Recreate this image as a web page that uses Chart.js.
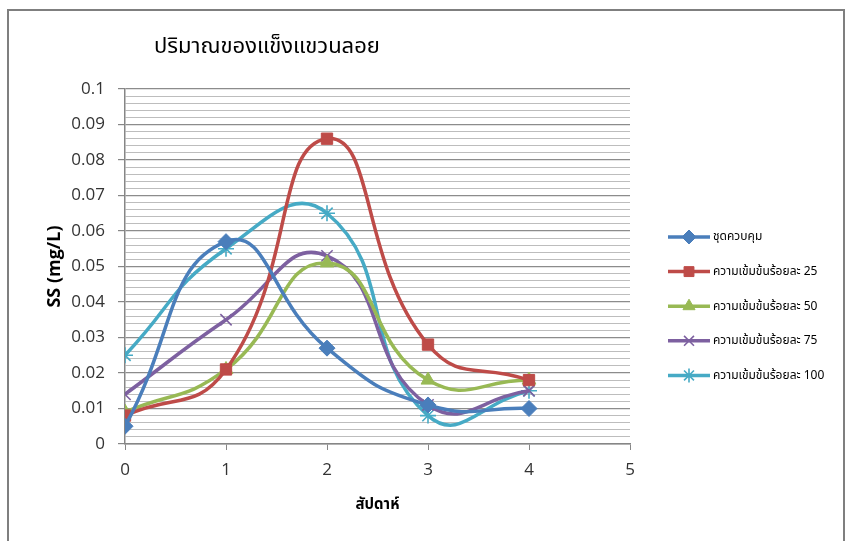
<!DOCTYPE html>
<html>
<head>
<meta charset="utf-8">
<script src="https://cdn.jsdelivr.net/npm/chart.js@4/dist/chart.umd.min.js"></script>
<style>
  html, body { margin: 0; padding: 0; background: #fff; }
  #wrap { width: 849px; height: 541px; position: relative; }
</style>
</head>
<body>
<div id="wrap"><canvas id="c" width="849" height="541"></canvas></div>
<script>
// Suspended solids (SS) per week for each treatment level
const weeks = [0, 1, 2, 3, 4];
const seriesNames = [
  'ชุดควบคุม',
  'ความเข้มข้นร้อยละ 25',
  'ความเข้มข้นร้อยละ 50',
  'ความเข้มข้นร้อยละ 75',
  'ความเข้มข้นร้อยละ 100'
];
const control = [0.005, 0.057, 0.027, 0.011, 0.010];
const conc25  = [0.008, 0.021, 0.086, 0.028, 0.018];
const conc50  = [0.009, 0.021, 0.051, 0.018, 0.018];
const conc75  = [0.014, 0.035, 0.053, 0.011, 0.015];
const conc100 = [0.025, 0.055, 0.065, 0.008, 0.015];
const xTicks = [0, 1, 2, 3, 4, 5];
const yTicks = [0, 0.01, 0.02, 0.03, 0.04, 0.05, 0.06, 0.07, 0.08, 0.09, 0.1];

const chartTitle = 'ปริมาณของแข็งแขวนลอย';
const xTitle = 'สัปดาห์';
const yTitle = 'SS (mg/L)';

const colors = ['#4A7EBB', '#BE4B48', '#98B954', '#7D60A0', '#46AAC5'];
const markers = ['rectRot', 'rect', 'triangle', 'crossRot', 'star'];
const markerSize = [8, 8, 8, 8, 8];
const values = [control, conc25, conc50, conc75, conc100];

const datasets = values.map((vals, i) => ({
  label: seriesNames[i],
  data: weeks.map((w, j) => ({ x: w, y: vals[j] })),
  borderColor: colors[i],
  backgroundColor: colors[i],
  borderWidth: 3.5,
  pointStyle: markers[i],
  pointRadius: markerSize[i],
  pointBorderWidth: (markers[i] === 'crossRot' || markers[i] === 'star') ? 1.6 : 1,
  pointBorderColor: colors[i],
  pointBackgroundColor: colors[i],
  tension: 0.5,
  fill: false
}));

const isMajor = v => Math.round(v * 1000) % 10 === 0;
const THAI = '"Noto Sans Thai", "Tahoma", "Noto Sans", "DejaVu Sans", sans-serif';
const NUM = '"Open Sans", "Liberation Sans", sans-serif';

// Frame, titles and the right-hand legend
const decorations = {
  id: 'decorations',
  afterDraw(chart) {
    const ctx = chart.ctx;
    const area = chart.chartArea;
    ctx.save();
    // outer frame
    ctx.strokeStyle = '#7f7f7f';
    ctx.lineWidth = 2;
    ctx.strokeRect(8, 10, 836, 540);

    // chart title
    ctx.fillStyle = '#000';
    ctx.font = '22px ' + THAI;
    ctx.textAlign = 'left';
    ctx.textBaseline = 'middle';
    ctx.fillText(chartTitle, 154, 49);

    // y axis title
    ctx.save();
    ctx.translate(55, (area.top + area.bottom) / 2);
    ctx.rotate(-Math.PI / 2);
    ctx.textAlign = 'center';
    ctx.font = 'bold 18px ' + NUM;
    ctx.fillText(yTitle, 0, 0);
    ctx.restore();

    // x axis title
    ctx.textAlign = 'center';
    ctx.font = 'bold 15px ' + THAI;
    ctx.fillText(xTitle, (area.left + area.right) / 2, 506);

    // legend
    const lx0 = 668, lx1 = 710, ly0 = 237, dy = 34.6;
    chart.data.datasets.forEach((ds, i) => {
      const y = ly0 + i * dy;
      ctx.strokeStyle = ds.borderColor;
      ctx.fillStyle = ds.backgroundColor;
      ctx.lineWidth = 3.5;
      ctx.beginPath();
      ctx.moveTo(lx0, y);
      ctx.lineTo(lx1, y);
      ctx.stroke();
      ctx.lineWidth = ds.pointBorderWidth;
      Chart.helpers.drawPoint(ctx, {
        pointStyle: ds.pointStyle,
        radius: ds.pointRadius - 1,
        borderWidth: ds.pointBorderWidth,
        rotation: 0
      }, (lx0 + lx1) / 2, y);
      ctx.fillStyle = '#000';
      ctx.textAlign = 'left';
      ctx.font = '12px ' + THAI;
      ctx.fillText(ds.label, 713, y + 1);
    });
    ctx.restore();
  }
};

new Chart(document.getElementById('c'), {
  type: 'line',
  data: { datasets },
  options: {
    responsive: false,
    animation: false,
    devicePixelRatio: 1,
    layout: { padding: { top: 89, right: 219, left: 0, bottom: 0 } },
    plugins: {
      legend: { display: false },
      title: { display: false },
      tooltip: { enabled: false }
    },
    scales: {
      x: {
        type: 'linear',
        min: 0,
        max: 5,
        afterBuildTicks: s => { s.ticks = xTicks.map(v => ({ value: v })); },
        afterFit: s => { s.height = 97; },
        ticks: {
          color: '#333333',
          font: { family: NUM, size: 17 },
          padding: 10,
          maxRotation: 0
        },
        grid: {
          drawOnChartArea: false,
          drawTicks: true,
          tickLength: 6,
          tickColor: '#868686'
        },
        border: { color: '#868686', width: 1.5 }
      },
      y: {
        type: 'linear',
        min: 0,
        max: 0.1,
        afterBuildTicks: s => {
          const t = [];
          for (let k = 0; k <= 50; k++) t.push({ value: k * 0.002 });
          s.ticks = t;
        },
        afterFit: s => { s.width = 125; },
        ticks: {
          autoSkip: false,
          color: '#333333',
          font: { family: NUM, size: 17 },
          padding: 13,
          callback: v => {
            if (!isMajor(v)) return '';
            const m = yTicks.find(t => Math.abs(t - v) < 1e-9);
            return m === undefined ? '' : String(m);
          }
        },
        grid: {
          color: c => isMajor(c.tick.value) ? '#8c8c8c' : '#bdbdbd',
          lineWidth: c => isMajor(c.tick.value) ? 1.2 : 1,
          tickLength: 7,
          tickColor: c => isMajor(c.tick.value) ? '#868686' : 'rgba(0,0,0,0)'
        },
        border: { color: '#868686', width: 1.5 }
      }
    }
  },
  plugins: [decorations]
});
</script>
</body>
</html>
